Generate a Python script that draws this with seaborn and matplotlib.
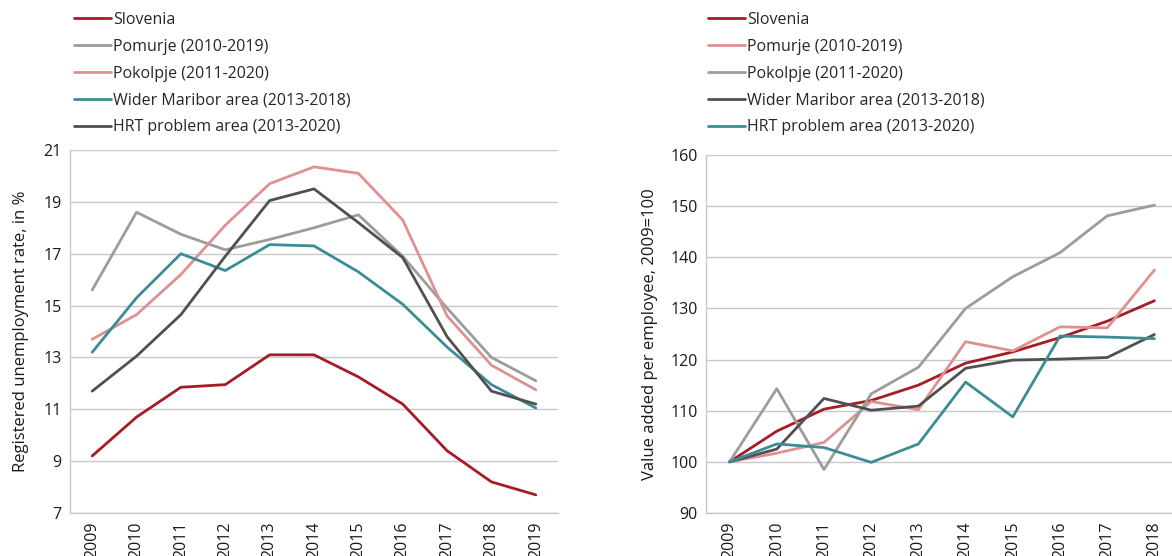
import numpy as np
import pandas as pd
import matplotlib
matplotlib.use("Agg")
import matplotlib.pyplot as plt
import seaborn as sns

years_u = [str(y) for y in range(2009, 2020)]
years_v = [str(y) for y in range(2009, 2019)]

# registered unemployment rate, in %
unemp_names = ["Slovenia", "Pomurje (2010-2019)", "Pokolpje (2011-2020)",
               "Wider Maribor area (2013-2018)", "HRT problem area (2013-2020)"]
unemp_slovenia = [9.2, 10.7, 11.85, 11.95, 13.1, 13.1, 12.25, 11.2, 9.4, 8.2, 7.7]
unemp_pomurje = [15.6, 18.6, 17.75, 17.15, 17.55, 18.0, 18.5, 16.9, 14.9, 13.0, 12.1]
unemp_pokolpje = [13.7, 14.65, 16.2, 18.1, 19.7, 20.35, 20.1, 18.3, 14.6, 12.7, 11.75]
unemp_maribor = [13.2, 15.3, 17.0, 16.35, 17.35, 17.3, 16.3, 15.05, 13.4, 11.95, 11.05]
unemp_hrt = [11.7, 13.05, 14.65, 16.9, 19.05, 19.5, 18.2, 16.85, 13.8, 11.7, 11.2]

# value added per employee, 2009=100
va_names = ["Slovenia", "Pomurje (2010-2019)", "Pokolpje (2011-2020)",
            "Wider Maribor area (2013-2018)", "HRT problem area (2013-2020)"]
va_slovenia = [100, 106, 110.3, 112, 115, 119.3, 121.5, 124.3, 127.5, 131.5]
va_pomurje = [100, 101.7, 103.8, 111.8, 110.2, 123.5, 121.7, 126.4, 126.2, 137.5]
va_pokolpje = [100, 114.3, 98.5, 113.3, 118.5, 130, 136.2, 140.9, 148.1, 150.2]
va_maribor = [100, 102.5, 112.4, 110.1, 110.9, 118.3, 119.9, 120.1, 120.4, 124.9]
va_hrt = [100, 103.5, 102.8, 99.9, 103.5, 115.6, 108.8, 124.6, 124.4, 124.1]

RED = "#a51c24"
GRAY = "#9c9c9c"
PINK = "#df9090"
TEAL = "#3a8d96"
DARK = "#505050"

unemp_colors = [RED, GRAY, PINK, TEAL, DARK]
va_colors = [RED, PINK, GRAY, DARK, TEAL]


def long_form(years, names, series):
    rows = []
    for name, vals in zip(names, series):
        for y, v in zip(years, vals):
            rows.append({"year": y, "series": name, "value": v})
    return pd.DataFrame(rows)


df_u = long_form(years_u, unemp_names,
                 [unemp_slovenia, unemp_pomurje, unemp_pokolpje, unemp_maribor, unemp_hrt])
df_v = long_form(years_v, va_names,
                 [va_slovenia, va_pomurje, va_pokolpje, va_maribor, va_hrt])

sns.set_style("white")
plt.rcParams["font.family"] = ["Open Sans", "DejaVu Sans"]

fig = plt.figure(figsize=(11.72, 5.56), dpi=100)
ax1 = fig.add_axes([70 / 1172, 1 - 513 / 556, 488 / 1172, 363 / 556])
ax2 = fig.add_axes([706 / 1172, 1 - 513 / 556, 472 / 1172, 358 / 556])


def style(ax, ylim, yticks, ylabel, label_x):
    ax.set_ylim(*ylim)
    ax.set_yticks(yticks)
    ax.grid(axis="y", color="#c8c8c8", lw=1)
    ax.set_axisbelow(True)
    for s in ["top", "right"]:
        ax.spines[s].set_visible(False)
    for s in ["left", "bottom"]:
        ax.spines[s].set_color("#c8c8c8")
        ax.spines[s].set_linewidth(1)
    ax.tick_params(axis="both", length=0, labelsize=11.5, colors="#1a1a1a", pad=6)
    ax.tick_params(axis="x", rotation=90)
    ax.set_xlabel("")
    ax.set_ylabel(ylabel, fontsize=12, color="#1a1a1a")
    ax.yaxis.set_label_coords(label_x, 0.5)


sns.lineplot(data=df_u, x="year", y="value", hue="series", palette=unemp_colors,
             linewidth=2, ax=ax1, sort=False)
ax1.set_xlim(-0.5, len(years_u) - 0.5)
style(ax1, (7, 21), np.arange(7, 22, 2), "Registered unemployment rate, in %", -0.083)

sns.lineplot(data=df_v, x="year", y="value", hue="series", palette=va_colors,
             linewidth=2, ax=ax2, sort=False)
ax2.set_xlim(-0.5, len(years_v) - 0.5)
style(ax2, (90, 160), np.arange(90, 161, 10), "Value added per employee, 2009=100", -0.102)

for ax, x0 in [(ax1, 66 / 1172), (ax2, 700 / 1172)]:
    h, l = ax.get_legend_handles_labels()
    ax.get_legend().remove()
    fig.legend(h, l, loc="upper left", bbox_to_anchor=(x0, 0.993), frameon=False,
               fontsize=11.5, handlelength=2.3, handletextpad=0.15, labelspacing=0.68,
               borderaxespad=0.1)

fig.savefig("out.png", dpi=100)
